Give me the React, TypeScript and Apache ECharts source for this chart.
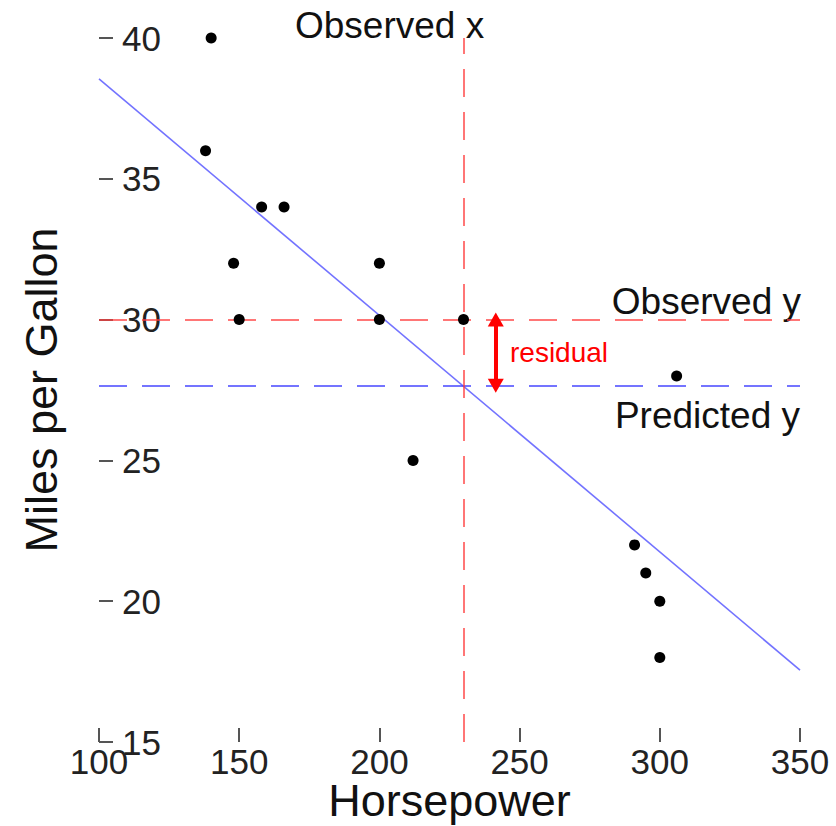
import React, { useEffect, useRef } from "react";
import * as echarts from "echarts";

const horsepower = [140, 138, 148, 150, 158, 166, 200, 200, 212, 230, 306, 291, 295, 300, 300];
const mpg = [40, 36, 32, 30, 34, 34, 32, 30, 25, 30, 28, 22, 21, 20, 18];
const fitLine: [number, number][] = [
  [100, 38.55],
  [350, 17.55],
];
const observedX = 230;
const observedY = 30;
const predictedY = 27.65;
const residualX = 241.5;
const xTicks = { min: 100, max: 350, interval: 50 };
const yTicks = { min: 15, max: 40, interval: 5 };

const FONT = "'Liberation Sans', Arial, sans-serif";

export default function App() {
  const ref = useRef<HTMLDivElement>(null);
  useEffect(() => {
    if (!ref.current) return;
    const chart = echarts.init(ref.current, undefined, { renderer: "svg" });
    const points = horsepower.map((h, i) => [h, mpg[i]]);
    const redDash = { color: "rgba(255,60,60,0.7)", width: 2, type: [28, 15] as any };
    const blueDash = { color: "rgba(70,70,255,0.75)", width: 2, type: [28, 15] as any };
    chart.setOption({
      animation: false,
      backgroundColor: "#ffffff",
      textStyle: { fontFamily: FONT },
      grid: { left: 99, right: 36, top: 38, bottom: 84, containLabel: false, outerBoundsMode: "none" },
      xAxis: {
        type: "value",
        min: xTicks.min,
        max: xTicks.max,
        interval: xTicks.interval,
        name: "Horsepower",
        nameLocation: "middle",
        nameGap: 38,
        nameMoveOverlap: false,
        nameTextStyle: { fontSize: 45, lineHeight: 40, color: "#111", fontFamily: FONT },
        axisLine: { show: false },
        axisTick: { show: true, inside: true, length: 14, lineStyle: { color: "#555", width: 2 } },
        axisLabel: { fontSize: 35, lineHeight: 36, color: "#222", margin: 1, fontFamily: FONT, showMinLabel: true, showMaxLabel: true },
        splitLine: { show: false },
      },
      yAxis: {
        type: "value",
        min: yTicks.min,
        max: yTicks.max,
        interval: yTicks.interval,
        name: "Miles per Gallon",
        nameLocation: "middle",
        nameGap: 35,
        nameMoveOverlap: false,
        nameTextStyle: { fontSize: 45, color: "#111", fontFamily: FONT },
        axisLine: { show: false },
        axisTick: { show: true, inside: true, length: 14, lineStyle: { color: "#555", width: 2 } },
        axisLabel: { inside: true, fontSize: 35, color: "#222", margin: 23, fontFamily: FONT, showMinLabel: true, showMaxLabel: true },
        splitLine: { show: false },
      },
      series: [
        {
          type: "line",
          data: fitLine,
          symbol: "none",
          lineStyle: { color: "rgba(80,80,255,0.8)", width: 1.6 },
          z: 2,
          markLine: {
            silent: true,
            symbol: "none",
            label: { show: false },
            data: [
              { yAxis: observedY, lineStyle: redDash },
              { yAxis: predictedY, lineStyle: blueDash },
              { xAxis: observedX, lineStyle: redDash },
            ],
          },
        },
        {
          type: "line",
          data: [],
          z: 4,
          markLine: {
            silent: true,
            symbol: ["triangle", "triangle"],
            symbolSize: [16, 14],
            label: { show: false },
            lineStyle: { color: "#ff0000", width: 4, type: "solid" },
            data: [
              [
                { coord: [residualX, observedY] },
                { coord: [residualX, predictedY] },
              ],
            ],
          },
        },
        {
          type: "scatter",
          data: points,
          symbol: "circle",
          symbolSize: 11,
          itemStyle: { color: "#000", opacity: 1 },
          clip: false,
          z: 5,
        },
      ],
      graphic: [
        { type: "text", x: 295, y: 25, style: { text: "Observed x", fontSize: 37, fontFamily: FONT, fill: "#111", textAlign: "left", textVerticalAlign: "middle", align: "left", verticalAlign: "middle" } },
        { type: "text", x: 801, y: 301, style: { text: "Observed y", fontSize: 37, fontFamily: FONT, fill: "#111", textAlign: "right", textVerticalAlign: "middle", align: "right", verticalAlign: "middle" } },
        { type: "text", x: 800, y: 415, style: { text: "Predicted y", fontSize: 37, fontFamily: FONT, fill: "#111", textAlign: "right", textVerticalAlign: "middle", align: "right", verticalAlign: "middle" } },
        { type: "text", x: 510, y: 352, style: { text: "residual", fontSize: 28, fontFamily: FONT, fill: "#ff0000", textAlign: "left", textVerticalAlign: "middle", align: "left", verticalAlign: "middle" } },
      ],
    });
    return () => chart.dispose();
  }, []);
  return <div ref={ref} style={{ position: "absolute", left: 0, top: 0, width: 836, height: 826 }} />;
}
